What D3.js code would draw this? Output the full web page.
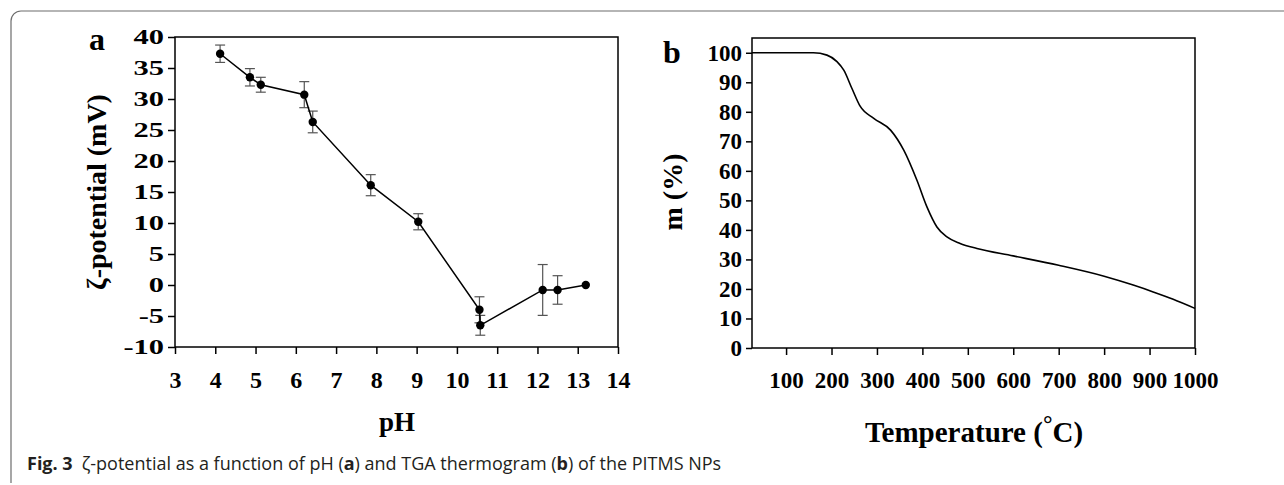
<!DOCTYPE html>
<html>
<head>
<meta charset="utf-8">
<script src="https://cdn.jsdelivr.net/npm/d3@7"></script>
<style>
  body { margin: 0; background: #fff; }
  svg { display: block; }
  .serif { font-family: "Liberation Serif", "Times New Roman", serif; font-weight: bold; fill: #000; }
  .axis path, .axis line { stroke: #000; stroke-width: 1.5px; }
  .caption { font-family: "Open Sans", "Noto Sans", sans-serif; fill: #231f20; }
</style>
</head>
<body>
<svg id="fig"></svg>
<script>
// panel a: zeta potential vs pH
let phValues   = [4.12, 4.86, 5.13, 6.21, 6.42, 7.86, 9.04, 10.56, 10.58, 12.13, 12.5, 13.2]
let zetaValues = [37.3, 33.5, 32.3, 30.7, 26.3, 16.1, 10.2, -4.0, -6.5, -0.8, -0.8, 0.0]
let zetaErrors = [1.4, 1.4, 1.2, 2.1, 1.75, 1.7, 1.3, 2.1, 1.6, 4.1, 2.3, 0]
let phTicks    = [3, 4, 5, 6, 7, 8, 9, 10, 11, 12, 13, 14]
let zetaTicks  = [-10, -5, 0, 5, 10, 15, 20, 25, 30, 35, 40]

// panel b: TGA thermogram
let tempValues = [25, 100, 160, 190, 212, 227, 245, 263, 293, 330, 359, 388, 410, 432, 454, 483, 520, 600, 700, 800, 864, 908, 952, 1000]
let massValues = [100, 100, 100, 99.2, 97, 94.1, 87.9, 81.9, 77.8, 73.8, 67, 56.8, 47.8, 41, 37.6, 35.4, 33.7, 31.2, 28, 24.3, 21.3, 19, 16.5, 13.4]
let tempTicks  = [100, 200, 300, 400, 500, 600, 700, 800, 900, 1000]
let massTicks  = [0, 10, 20, 30, 40, 50, 60, 70, 80, 90, 100]

// plain labels: no thousands comma, ascii minus like the figure
let plain = d => String(d)

function getConfig() {
  let width = 1284
  let height = 485
  let svg = d3.select("#fig").attr("width", width).attr("height", height)
  // plot boxes of the two panels
  let boxA = { left: 175, top: 37, right: 618, bottom: 347 }
  let boxB = { left: 752, top: 38, right: 1195, bottom: 348 }
  return { width, height, svg, boxA, boxB }
}

function drawFrame(config) {
  let { svg } = config
  svg.append("path")
    .attr("d", "M11,483 V21 A10,10 0 0 1 21,11 H1284")
    .attr("fill", "none")
    .attr("stroke", "#6d6d6d")
    .attr("stroke-width", 1.2)
}

function drawPanelA(config) {
  let { svg, boxA } = config
  let x = d3.scaleLinear().domain([3, 14]).range([boxA.left, boxA.right])
  let y = d3.scaleLinear().domain([-10, 40]).range([boxA.bottom, boxA.top])
  let g = svg.append("g")

  // box
  g.append("rect")
    .attr("x", boxA.left).attr("y", boxA.top)
    .attr("width", boxA.right - boxA.left).attr("height", boxA.bottom - boxA.top)
    .attr("fill", "none").attr("stroke", "#000").attr("stroke-width", 1.5)

  let xAxis = g.append("g")
    .attr("class", "axis")
    .attr("transform", "translate(0," + boxA.bottom + ")")
    .call(d3.axisBottom(x).tickValues(phTicks).tickFormat(plain).tickSize(7).tickSizeOuter(0).tickPadding(17))
  xAxis.selectAll("text").attr("class", "serif").style("font-size", "24px")

  let yAxis = g.append("g")
    .attr("class", "axis")
    .attr("transform", "translate(" + boxA.left + ",0)")
    .call(d3.axisLeft(y).tickValues(zetaTicks).tickFormat(plain).tickSize(7).tickSizeOuter(0).tickPadding(4))
  // the y labels in the figure are stretched sideways
  yAxis.selectAll("text")
    .attr("class", "serif").style("font-size", "21px")
    .attr("x", -7.6)
    .attr("transform", "scale(1.45,1)")
  g.selectAll(".domain").remove()

  let pts = phValues.map((p, i) => ({ p: p, v: zetaValues[i], e: zetaErrors[i] }))

  // error bars
  let eb = g.selectAll(".err").data(pts.filter(d => d.e > 0)).enter().append("g")
    .attr("class", "err").attr("stroke", "#555").attr("stroke-width", 1.2)
  eb.append("line")
    .attr("x1", d => x(d.p)).attr("x2", d => x(d.p))
    .attr("y1", d => y(d.v + d.e)).attr("y2", d => y(d.v - d.e))
  eb.append("line")
    .attr("x1", d => x(d.p) - 5).attr("x2", d => x(d.p) + 5)
    .attr("y1", d => y(d.v + d.e)).attr("y2", d => y(d.v + d.e))
  eb.append("line")
    .attr("x1", d => x(d.p) - 5).attr("x2", d => x(d.p) + 5)
    .attr("y1", d => y(d.v - d.e)).attr("y2", d => y(d.v - d.e))

  let line = d3.line().x(d => x(d.p)).y(d => y(d.v))
  g.append("path")
    .datum(pts)
    .attr("d", line)
    .attr("fill", "none").attr("stroke", "#000").attr("stroke-width", 1.5)

  g.selectAll(".dot").data(pts).enter().append("circle")
    .attr("class", "dot")
    .attr("cx", d => x(d.p)).attr("cy", d => y(d.v)).attr("r", 4.2)
    .attr("fill", "#000")

  // labels
  g.append("text").attr("class", "serif")
    .attr("x", 97).attr("y", 50).attr("text-anchor", "middle")
    .style("font-size", "32px").text("a")
  g.append("text").attr("class", "serif")
    .attr("transform", "translate(106,192) rotate(-90)")
    .attr("text-anchor", "middle")
    .style("font-size", "28px").text("ζ-potential (mV)")
  g.append("text").attr("class", "serif")
    .attr("x", 397).attr("y", 431).attr("text-anchor", "middle")
    .style("font-size", "27px").text("pH")
}

function drawPanelB(config) {
  let { svg, boxB } = config
  let x = d3.scaleLinear().domain([25, 1000]).range([boxB.left, boxB.right])
  let y = d3.scaleLinear().domain([0, 105]).range([boxB.bottom, boxB.top])
  let g = svg.append("g")

  g.append("rect")
    .attr("x", boxB.left).attr("y", boxB.top)
    .attr("width", boxB.right - boxB.left).attr("height", boxB.bottom - boxB.top)
    .attr("fill", "none").attr("stroke", "#000").attr("stroke-width", 1.5)

  let xAxis = g.append("g")
    .attr("class", "axis")
    .attr("transform", "translate(0," + boxB.bottom + ")")
    .call(d3.axisBottom(x).tickValues(tempTicks).tickFormat(plain).tickSize(7).tickSizeOuter(0).tickPadding(17))
  xAxis.selectAll("text").attr("class", "serif").style("font-size", "23px")

  let yAxis = g.append("g")
    .attr("class", "axis")
    .attr("transform", "translate(" + boxB.left + ",0)")
    .call(d3.axisLeft(y).tickValues(massTicks).tickFormat(plain).tickSize(6).tickSizeOuter(0).tickPadding(4))
  yAxis.selectAll("text").attr("class", "serif").style("font-size", "23px")
  g.selectAll(".domain").remove()

  let pts = tempValues.map((t, i) => ({ t: t, m: massValues[i] }))
  let line = d3.line().curve(d3.curveMonotoneX).x(d => x(d.t)).y(d => y(d.m))
  g.append("path")
    .datum(pts)
    .attr("d", line)
    .attr("fill", "none").attr("stroke", "#000").attr("stroke-width", 1.6)

  g.append("text").attr("class", "serif")
    .attr("x", 672).attr("y", 63).attr("text-anchor", "middle")
    .style("font-size", "32px").text("b")
  g.append("text").attr("class", "serif")
    .attr("transform", "translate(682,192) rotate(-90)")
    .attr("text-anchor", "middle")
    .style("font-size", "28px").text("m (%)")

  let xt = g.append("text").attr("class", "serif")
    .attr("x", 974).attr("y", 442).attr("text-anchor", "middle")
    .style("font-size", "29px")
  xt.append("tspan").text("Temperature (")
  xt.append("tspan").attr("dy", -10).style("font-size", "24px").text("°")
  xt.append("tspan").attr("dy", 10).text("C)")
}

function drawCaption(config) {
  let { svg } = config
  let t = svg.append("text").attr("class", "caption")
    .attr("x", 27).attr("y", 470)
    .style("font-size", "18px")
  t.append("tspan").style("font-weight", "bold").text("Fig. 3")
  t.append("tspan").attr("dx", 9).text("ζ-potential as a function of pH (")
  t.append("tspan").style("font-weight", "bold").text("a")
  t.append("tspan").text(") and TGA thermogram (")
  t.append("tspan").style("font-weight", "bold").text("b")
  t.append("tspan").text(") of the PITMS NPs")
}

function showChart() {
  let config = getConfig()
  drawFrame(config)
  drawPanelA(config)
  drawPanelB(config)
  drawCaption(config)
}

showChart()
</script>
</body>
</html>
